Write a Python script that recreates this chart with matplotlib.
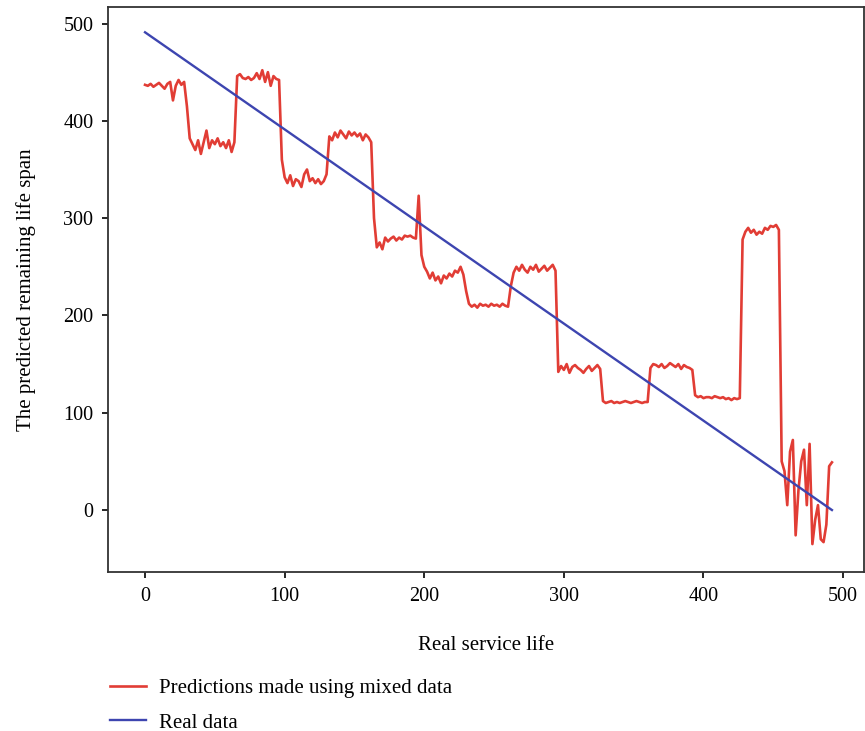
import numpy as np
import matplotlib.pyplot as plt

# predicted remaining life (mixed data), one value every 2 units of service life
pred_step = 2
pred_mixed = [
    437, 436, 438, 435, 437, 439, 436, 433, 438, 440, 421, 436, 442, 437, 440,
    415, 382,
    376, 370, 380, 366, 378, 390, 372, 380, 376, 382, 374, 378, 372, 380, 368, 378,
    446, 448, 444, 443, 445, 442, 444, 449, 443, 452, 440, 450, 436, 446, 443, 442,
    360,
    342, 336, 344, 333, 340, 338, 332, 345, 350, 338, 341, 336, 340, 335, 338,
    345,
    384, 380, 388, 383, 390, 386, 382, 389, 385, 388, 384, 387, 380, 386, 383, 378,
    300,
    270, 275, 268, 280, 276, 279, 281, 277, 280, 278, 282, 281, 282, 280, 279,
    323,
    262, 250, 245, 238, 244, 236, 240, 233, 241, 238, 243, 240, 246, 244, 250, 242,
    225,
    212, 209, 211, 208, 212, 210, 211, 209, 212, 210, 211, 209, 212, 210, 209,
    230,
    244, 250, 246, 252, 247, 244, 250, 247, 252, 245, 248, 251, 246, 249, 252, 246,
    142, 148, 144, 150, 141, 147, 149, 146, 144, 141, 145, 148, 143, 146, 149, 145,
    112, 110, 111, 112, 110, 111, 110, 111, 112, 111, 110, 111, 112, 111, 110, 111, 111,
    146, 150, 149, 147, 150, 146, 148, 151, 149, 147, 150, 145, 149, 147, 146, 144,
    118, 116, 117, 115, 116, 116, 115, 117, 116, 115, 116, 114, 115, 113, 115, 114, 115,
    278, 286, 290, 285, 288, 283, 286, 284, 290, 288, 292, 291, 293, 288,
    50, 40, 5, 60, 72, -26, 20, 50, 62, 5, 68, -35, -10, 5, -30, -33, -15, 45, 49,
]
pred_x = np.arange(len(pred_mixed)) * pred_step

# real remaining life
real_x = [0, 492]
real_y = [491, 0]

xticks = [0, 100, 200, 300, 400, 500]
yticks = [0, 100, 200, 300, 400, 500]

plt.rcParams['font.family'] = ['Liberation Serif', 'DejaVu Serif']

fig = plt.figure(figsize=(8.65, 7.31), dpi=100)
ax = fig.add_axes([0.1249, 0.2175, 0.874, 0.7736])

ax.plot(pred_x, pred_mixed, color='#E0322A', lw=1.9, alpha=0.95,
        label='Predictions made using mixed data')
ax.plot(real_x, real_y, color='#3D45B0', lw=1.7, label='Real data')

ax.set_xlim(-26.5, 515)
ax.set_ylim(-63.7, 517.5)
ax.set_xticks(xticks)
ax.set_yticks(yticks)
ax.tick_params(direction='out', length=4.5, width=1.2, labelsize=14.5, pad=6,
               color='black')

for s in ax.spines.values():
    s.set_color('#333333')
    s.set_linewidth(1.3)

ax.set_xlabel('Real service life', fontsize=15, labelpad=22)
ax.set_ylabel('The predicted remaining life span', fontsize=15, labelpad=20)

h, l = ax.get_legend_handles_labels()
fig.legend(h, l, loc='upper left', bbox_to_anchor=(0.127, 0.072),
           frameon=False, fontsize=15, handlelength=1.75, handletextpad=0.6,
           labelspacing=0.72, borderpad=0, borderaxespad=0)

fig.savefig('out.png', dpi=100)
